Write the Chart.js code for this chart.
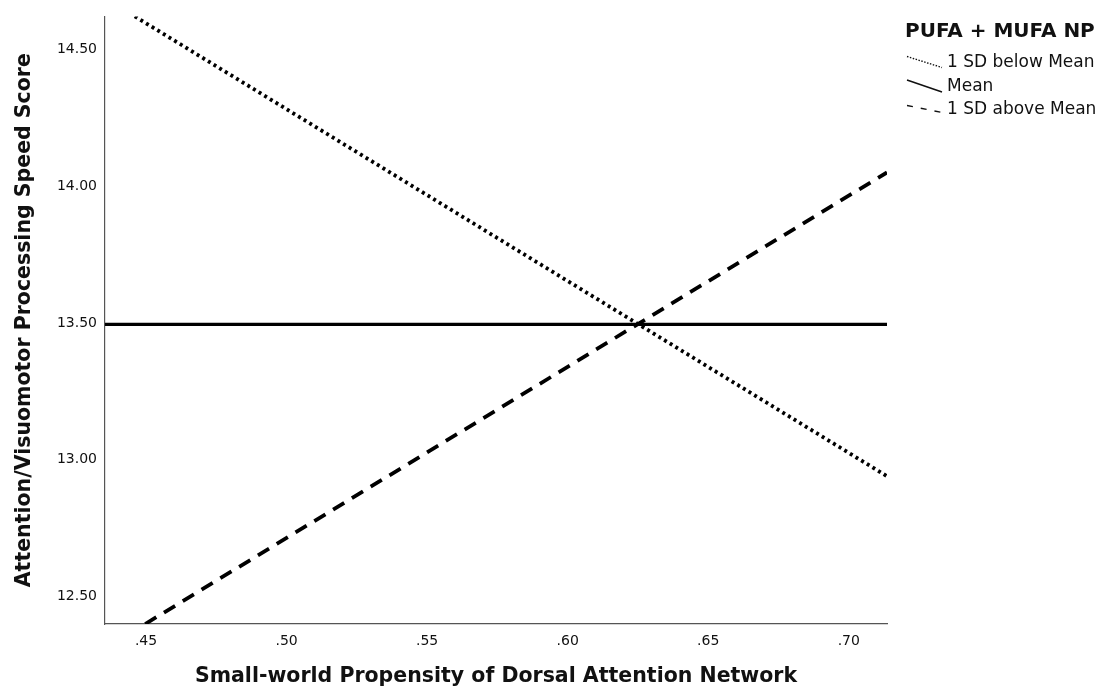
<!DOCTYPE html>
<html>
<head>
<meta charset="utf-8">
<script src="https://cdn.jsdelivr.net/npm/chart.js@4"></script>
<style>
  html, body { margin: 0; padding: 0; background: #fff; }
  #wrap { width: 1105px; height: 693px; }
</style>
</head>
<body>
<div id="wrap"><canvas id="c"></canvas></div>
<script>
// Values.
const xTicks = [0.45, 0.50, 0.55, 0.60, 0.65, 0.70];
const yTicks = [12.5, 13.0, 13.5, 14.0, 14.5];
const xRange = [0.4354, 0.7136];
const yRange = [12.40, 14.62];

const seriesNames = ['1 SD below Mean', 'Mean', '1 SD above Mean'];
const belowX = [0.446, 0.7136];
const belowY = [14.62, 12.94];
const meanX = [0.4354, 0.7136];
const meanY = [13.495, 13.495];
const aboveX = [0.4497, 0.7136];
const aboveY = [12.40, 14.05];

const legendTitle = 'PUFA + MUFA NP';
const xTitle = 'Small-world Propensity of Dorsal Attention Network';
const yTitle = 'Attention/Visuomotor Processing Speed Score';

const FONT = '"DejaVu Sans", "Liberation Sans", sans-serif';
const INK = '#111';

const dashes = [[3, 3.6], [], [13, 9]];
const widths = [3.8, 3.2, 3.8];

function pairUp(xs, ys) {
  return xs.map((x, i) => ({ x, y: ys[i] }));
}

// Legend with slanted line samples, the way SPSS draws it.
const slantLegend = {
  id: 'slantLegend',
  afterDraw(chart) {
    const ctx = chart.ctx;
    const left = 905;
    ctx.save();
    ctx.fillStyle = INK;
    ctx.textBaseline = 'middle';
    ctx.font = 'bold 20px ' + FONT;
    ctx.fillText(legendTitle, left, 32);
    ctx.font = '17px ' + FONT;
    const rows = [63, 87, 110];
    const drops = [11, 12, 7];
    seriesNames.forEach((name, i) => {
      const y = rows[i];
      ctx.strokeStyle = INK;
      ctx.lineWidth = i === 1 ? 1.6 : 1.4;
      ctx.setLineDash(i === 0 ? [1.5, 1.5] : i === 2 ? [6, 8] : []);
      ctx.beginPath();
      ctx.moveTo(left + 2, y - drops[i] / 2 - 1);
      ctx.lineTo(left + 37, y + drops[i] / 2 - 1);
      ctx.stroke();
      ctx.setLineDash([]);
      ctx.fillText(name, left + 42, y);
    });
    ctx.restore();
  },
};

const ctxEl = document.getElementById('c');
new Chart(ctxEl, {
  type: 'scatter',
  data: {
    datasets: [
      { label: seriesNames[0], data: pairUp(belowX, belowY) },
      { label: seriesNames[1], data: pairUp(meanX, meanY) },
      { label: seriesNames[2], data: pairUp(aboveX, aboveY) },
    ].map((d, i) => ({
      ...d, showLine: true, borderColor: '#000', backgroundColor: '#000',
      borderWidth: widths[i], borderDash: dashes[i], borderCapStyle: 'butt',
      pointRadius: 0, pointHoverRadius: 0,
    })),
  },
  options: {
    responsive: true, maintainAspectRatio: false, animation: false,
    layout: { padding: { left: 0, top: 12, right: 218, bottom: 0 } },
    scales: {
      x: {
        type: 'linear', min: xRange[0], max: xRange[1],
        grid: { display: false, drawTicks: false },
        border: { display: true, color: '#555', width: 1.2 },
        afterBuildTicks(scale) { scale.ticks = xTicks.map((v) => ({ value: v })); },
        afterFit(scale) { scale.height = 69; },
        ticks: {
          color: INK, font: { family: FONT, size: 14 }, padding: 9, maxRotation: 0,
          callback: (v) => v.toFixed(2).replace(/^0/, ''),
        },
        title: {
          display: true, text: xTitle, color: INK,
          font: { family: FONT, size: 20.5, weight: 'bold' }, padding: { top: 18 },
        },
      },
      y: {
        min: yRange[0], max: yRange[1],
        grid: { display: false, drawTicks: false },
        border: { display: true, color: '#555', width: 1.2 },
        afterBuildTicks(scale) { scale.ticks = yTicks.map((v) => ({ value: v })); },
        afterFit(scale) { scale.width = 105; },
        ticks: {
          color: INK, font: { family: FONT, size: 14 }, padding: 8,
          callback: (v) => v.toFixed(2),
        },
        title: {
          display: true, text: yTitle, color: INK,
          font: { family: FONT, size: 20.5, weight: 'bold' }, padding: { top: 12 },
        },
      },
    },
    plugins: { legend: { display: false }, tooltip: { enabled: false } },
  },
  plugins: [slantLegend],
});
</script>
</body>
</html>
